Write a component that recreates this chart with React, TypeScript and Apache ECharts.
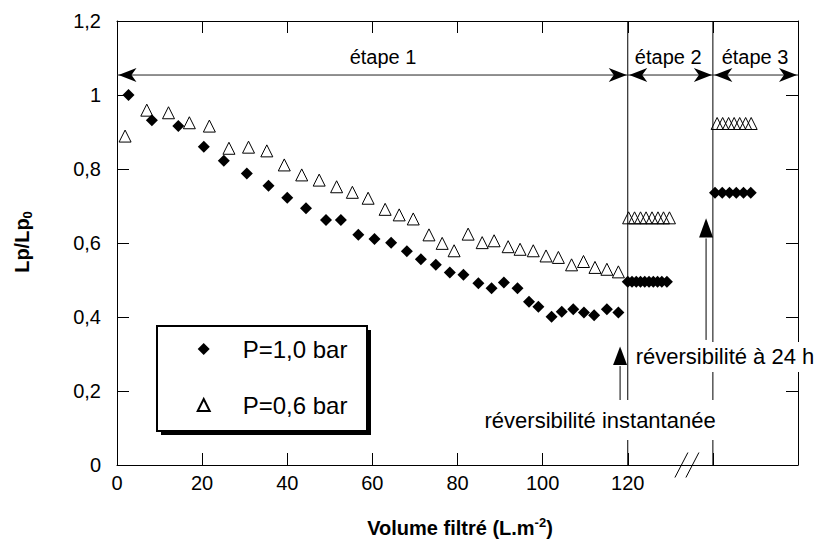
import React, { useEffect, useRef } from 'react';
import * as echarts from 'echarts';

const FONT = '"Liberation Sans", Arial, Helvetica, sans-serif';

// P = 1,0 bar (filled diamonds)
const p10Stage1X = [2.7, 8.2, 14.4, 20.4, 25.1, 30.5, 35.6, 40.0, 44.4, 49.1, 52.6, 56.7, 60.5, 64.4, 68.1, 71.4, 74.9, 78.2, 81.4, 84.9, 88.0, 90.9, 94.1, 96.8, 99.0, 102.1, 104.5, 107.2, 109.7, 112.1, 115.1, 117.8];
const p10Stage1Y = [1.0, 0.932, 0.916, 0.86, 0.822, 0.788, 0.755, 0.722, 0.694, 0.662, 0.662, 0.622, 0.611, 0.601, 0.578, 0.556, 0.541, 0.52, 0.514, 0.491, 0.478, 0.493, 0.478, 0.441, 0.428, 0.401, 0.414, 0.421, 0.412, 0.405, 0.421, 0.412];
const p10Stage2X = [120.0, 121.0, 122.0, 123.0, 124.0, 125.0, 126.0, 127.0, 128.0, 129.2];
const p10Stage2Y = [0.495, 0.495, 0.495, 0.495, 0.495, 0.495, 0.495, 0.495, 0.495, 0.495];
const p10Stage3X = [140.5, 142.2, 143.9, 145.5, 147.2, 148.9];
const p10Stage3Y = [0.736, 0.736, 0.736, 0.736, 0.736, 0.736];

// P = 0,6 bar (open triangles)
const p06Stage1X = [1.9, 7.0, 12.1, 17.0, 21.7, 26.3, 30.9, 35.2, 39.3, 43.4, 47.5, 51.6, 55.3, 59.0, 63.0, 66.3, 69.6, 73.3, 76.4, 79.2, 82.5, 85.8, 88.6, 91.9, 94.7, 97.8, 100.8, 103.7, 106.8, 109.6, 112.3, 115.1, 117.8];
const p06Stage1Y = [0.889, 0.959, 0.952, 0.925, 0.916, 0.856, 0.859, 0.849, 0.811, 0.784, 0.77, 0.752, 0.737, 0.721, 0.691, 0.676, 0.665, 0.622, 0.599, 0.579, 0.624, 0.601, 0.606, 0.59, 0.583, 0.579, 0.565, 0.561, 0.541, 0.55, 0.534, 0.529, 0.522];
const p06Stage2X = [120.2, 121.6, 123.0, 124.3, 125.7, 127.1, 128.4, 129.8];
const p06Stage2Y = [0.668, 0.668, 0.668, 0.668, 0.668, 0.668, 0.668, 0.668];
const p06Stage3X = [141.0, 142.3, 143.7, 145.0, 146.3, 147.7, 149.0];
const p06Stage3Y = [0.923, 0.923, 0.923, 0.923, 0.923, 0.923, 0.923];

const seriesNames = ['P=1,0 bar', 'P=0,6 bar'];

// stage boundaries (x data units) and labels
const stageBounds = [0, 120, 140, 160];
const stageLabels = ['étape 1', 'étape 2', 'étape 3'];
const stageLabelX = [62.5, 129.5, 149.9];
const stageArrowY = 1.054;
const stageLabelY = 1.103;

const xTickMaxLabel = 120;

function zip(xs: number[], ys: number[]) {
  return xs.map((x, i) => [x, ys[i]]);
}

export default function App() {
  const ref = useRef<HTMLDivElement>(null);

  useEffect(() => {
    const chart = echarts.init(ref.current!, null, { renderer: 'svg' });

    const axisLine = { show: true, onZero: false, lineStyle: { color: '#000', width: 1 } };
    const axisTick = { show: true, inside: true, length: 12, lineStyle: { color: '#000', width: 1 } };

    chart.setOption({
      animation: false,
      backgroundColor: '#fff',
      grid: { left: 117, top: 21, right: 18, bottom: 79, containLabel: false },
      xAxis: [
        {
          type: 'value', min: 0, max: 160, interval: 20, position: 'bottom',
          axisLine, axisTick,
          axisLabel: {
            margin: 8, fontSize: 20, color: '#000', fontFamily: FONT,
            formatter: (v: number) => (v <= xTickMaxLabel ? String(v) : ''),
          },
          splitLine: { show: false },
        },
        {
          type: 'value', min: 0, max: 160, interval: 20, position: 'top',
          axisLine, axisTick, axisLabel: { show: false }, splitLine: { show: false },
        },
      ],
      yAxis: [
        {
          type: 'value', min: 0, max: 1.2, interval: 0.2, position: 'left',
          axisLine, axisTick,
          axisLabel: {
            margin: 16, fontSize: 20, color: '#000', fontFamily: FONT,
            formatter: (v: number) => String(+v.toFixed(2)).replace('.', ','),
          },
          splitLine: { show: false },
        },
        {
          type: 'value', min: 0, max: 1.2, interval: 0.2, position: 'right',
          axisLine, axisTick, axisLabel: { show: false }, splitLine: { show: false },
        },
      ],
      legend: {
        orient: 'vertical', left: 196.7, top: 336, padding: 0,
        itemWidth: 12, itemHeight: 12, itemGap: 30,
        symbolKeepAspect: true,
        selectedMode: false,
        textStyle: { fontSize: 24, lineHeight: 26, color: '#000', fontFamily: FONT, padding: [0, 0, 0, 28] },
        data: seriesNames,
      },
      series: [
        {
          name: seriesNames[0], type: 'scatter', symbol: 'diamond', symbolSize: 12, symbolKeepAspect: true,
          itemStyle: { color: '#000', opacity: 1 },
          data: [...zip(p10Stage1X, p10Stage1Y), ...zip(p10Stage2X, p10Stage2Y), ...zip(p10Stage3X, p10Stage3Y)],
        },
        {
          name: seriesNames[1], type: 'scatter', symbol: 'triangle', symbolSize: 12, symbolKeepAspect: true,
          itemStyle: { color: 'rgba(255,255,255,0)', borderColor: '#000', borderWidth: 1, opacity: 1 },
          data: [...zip(p06Stage1X, p06Stage1Y), ...zip(p06Stage2X, p06Stage2Y), ...zip(p06Stage3X, p06Stage3Y)],
        },
      ],
    });

    const P = (x: number, y: number) =>
      chart.convertToPixel({ xAxisIndex: 0, yAxisIndex: 0 }, [x, y]) as number[];

    const g: any[] = [];
    const lineStyle = { stroke: '#000', lineWidth: 1 };

    // vertical separators at stage boundaries
    [stageBounds[1], stageBounds[2]].forEach((b) => {
      const a = P(b, 0);
      const c = P(b, 1.2);
      g.push({ type: 'line', z: 5, shape: { x1: a[0], y1: a[1], x2: c[0], y2: c[1] }, style: lineStyle });
    });

    // stage double arrows
    const aL = P(stageBounds[0], stageArrowY);
    const aR = P(stageBounds[3], stageArrowY);
    g.push({ type: 'line', z: 5, shape: { x1: aL[0], y1: aL[1], x2: aR[0], y2: aR[1] }, style: { stroke: '#222', lineWidth: 1 } });
    const head = (tipX: number, y: number, dir: number) => {
      const L = 18, W = 7, N = 13;
      return {
        type: 'polygon', z: 6,
        shape: { points: [[tipX, y], [tipX - dir * L, y - W], [tipX - dir * N, y], [tipX - dir * L, y + W]] },
        style: { fill: '#000' },
      };
    };
    for (let i = 0; i < 3; i++) {
      const l = P(stageBounds[i], stageArrowY);
      const r = P(stageBounds[i + 1], stageArrowY);
      g.push(head(l[0] + 1.5, l[1], -1));
      g.push(head(r[0] - 1, r[1], 1));
      const t = P(stageLabelX[i], stageLabelY);
      g.push({
        type: 'text', z: 6, x: t[0], y: t[1],
        style: { text: stageLabels[i], fontSize: 20, fontFamily: FONT, fill: '#000', align: 'center', verticalAlign: 'middle' },
      });
    }

    // upward arrows (réversibilité)
    const upArrow = (x: number, yBottom: number, yBase: number, yTip: number) => {
      const b = P(x, yBottom);
      const s = P(x, yBase);
      const t = P(x, yTip);
      g.push({ type: 'line', z: 6, shape: { x1: b[0], y1: b[1], x2: s[0], y2: s[1] + 1 }, style: lineStyle });
      g.push({
        type: 'polygon', z: 6,
        shape: { points: [[t[0], t[1]], [s[0] - 7, s[1]], [s[0] + 7, s[1]]] },
        style: { fill: '#000' },
      });
    };
    upArrow(118.2, 0.149, 0.27, 0.32);
    upArrow(138.4, 0.338, 0.615, 0.667);

    // annotation texts with white background
    const t1 = P(113.5, 0.1216);
    g.push({
      type: 'text', z: 10, x: t1[0], y: t1[1],
      style: {
        text: 'réversibilité instantanée', fontSize: 22, fontFamily: FONT, fill: '#000',
        align: 'center', verticalAlign: 'middle', backgroundColor: '#fff', padding: [9, 3],
      },
    });
    const t2 = P(120.7, 0.292);
    g.push({
      type: 'text', z: 10, x: t2[0], y: t2[1],
      style: {
        text: 'réversibilité à 24 h', fontSize: 22, fontFamily: FONT, fill: '#000',
        align: 'left', verticalAlign: 'middle', backgroundColor: '#fff', padding: [4, 4, 4, 5],
      },
    });

    // axis break mark
    const bc = P(133.9, 0);
    g.push({ type: 'line', z: 10, shape: { x1: bc[0] - 12, y1: bc[1] + 12.5, x2: bc[0] + 1, y2: bc[1] - 12.5 }, style: lineStyle });
    g.push({ type: 'line', z: 10, shape: { x1: bc[0] - 1, y1: bc[1] + 12.5, x2: bc[0] + 12, y2: bc[1] - 12.5 }, style: lineStyle });

    // legend frame with shadow
    g.push({ type: 'rect', z: 1, shape: { x: 161, y: 330, width: 210, height: 105 }, style: { fill: '#000' } });
    g.push({ type: 'rect', z: 2, shape: { x: 157, y: 326, width: 210, height: 105 }, style: { fill: '#fff', stroke: '#000', lineWidth: 2 } });

    // axis titles
    g.push({
      type: 'text', z: 10, x: 22, y: 242, rotation: Math.PI / 2,
      style: {
        text: '{a|Lp/Lp}{b|0}', align: 'center', verticalAlign: 'middle', fill: '#000',
        rich: {
          a: { fontSize: 20, fontWeight: 'bold', fontFamily: FONT, lineHeight: 24, fill: '#000' },
          b: { fontSize: 13, fontWeight: 'bold', fontFamily: FONT, lineHeight: 13, verticalAlign: 'bottom', fill: '#000' },
        },
      },
    });
    g.push({
      type: 'text', z: 10, x: 460, y: 528,
      style: {
        text: '{a|Volume filtré (L.m}{s|-2}{a|)}', align: 'center', verticalAlign: 'middle', fill: '#000',
        rich: {
          a: { fontSize: 20, fontWeight: 'bold', fontFamily: FONT, lineHeight: 24, fill: '#000' },
          s: { fontSize: 13, fontWeight: 'bold', fontFamily: FONT, lineHeight: 13, verticalAlign: 'top', fill: '#000' },
        },
      },
    });

    chart.setOption({ graphic: g });

    return () => chart.dispose();
  }, []);

  return <div ref={ref} style={{ position: 'fixed', left: 0, top: 0, width: 816, height: 544 }} />;
}
